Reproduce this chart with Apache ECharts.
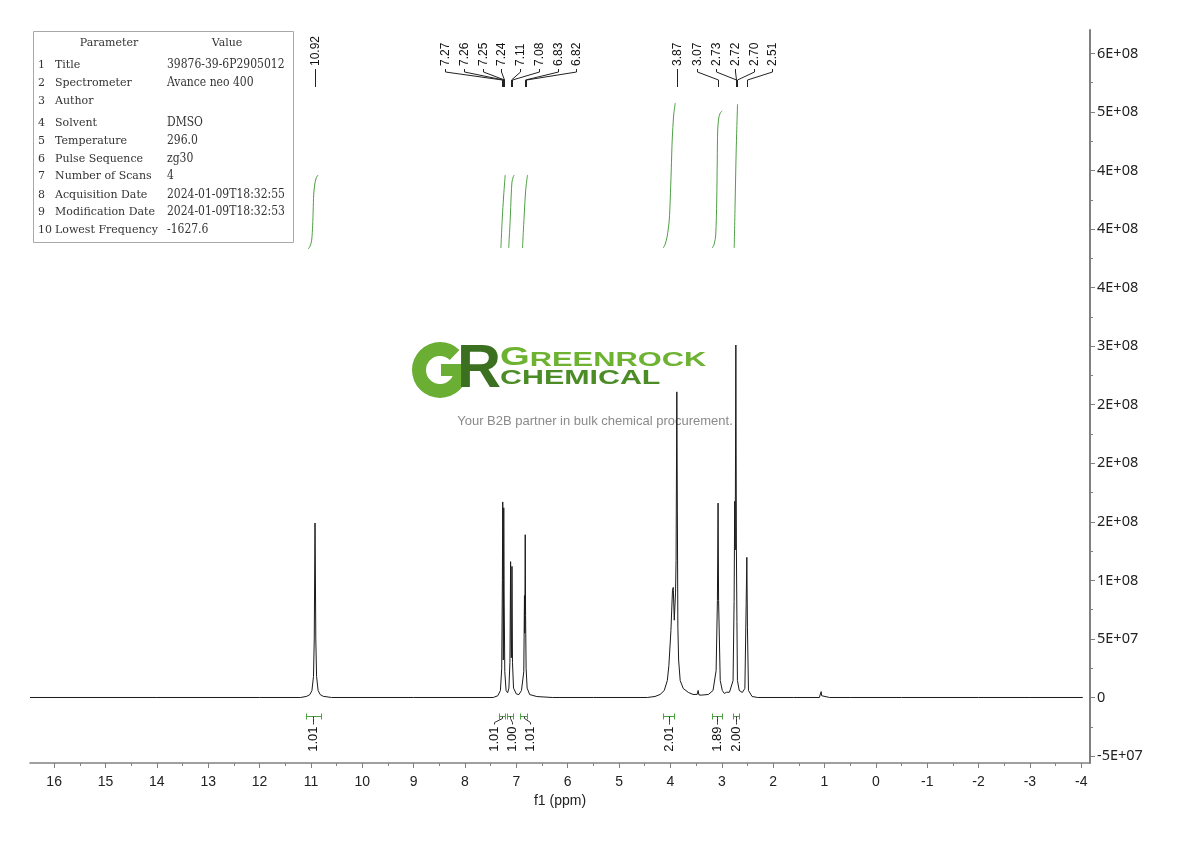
<!DOCTYPE html>
<html><head><meta charset="utf-8">
<script src="https://cdn.jsdelivr.net/npm/echarts@6/dist/echarts.min.js"></script>
<style>html,body{margin:0;padding:0;background:#fff}#c{width:1190px;height:841px}</style>
</head><body><div id="c"></div>
<script>
// ---------- data ----------
const xTickValues = [16,15,14,13,12,11,10,9,8,7,6,5,4,3,2,1,0,-1,-2,-3,-4];
const xMinorTickValues = [15.5,14.5,13.5,12.5,11.5,10.5,9.5,8.5,7.5,6.5,5.5,4.5,3.5,2.5,1.5,0.5,-0.5,-1.5,-2.5,-3.5];
const yTickValues = [-5e7,0,5e7,1e8,1.5e8,2e8,2.5e8,3e8,3.5e8,4e8,4.5e8,5e8,5.5e8];
const yTickLabels = ['-5E+07','0','5E+07','1E+08','2E+08','2E+08','2E+08','3E+08','4E+08','4E+08','4E+08','5E+08','6E+08'];
const yMinorTickValues = [-2.5e7,2.5e7,7.5e7,1.25e8,1.75e8,2.25e8,2.75e8,3.25e8,3.75e8,4.25e8,4.75e8,5.25e8];

const spectrumPpm = [16.47,14.0,12.0,11.2,11.08,11.02,10.98,10.95,10.935,10.925,10.92,10.915,10.905,10.89,10.86,10.82,10.76,10.6,9.0,
  7.45,7.36,7.31,7.285,7.272,7.265,7.258,7.254,7.25,7.245,7.238,7.225,7.2,7.17,7.145,7.125,7.112,7.104,7.098,7.092,7.085,7.075,7.055,7.0,6.95,6.90,6.855,6.842,6.835,6.827,6.82,6.81,6.79,6.74,6.6,6.3,5.5,
  4.45,4.30,4.20,4.12,4.06,4.03,3.99,3.96,3.945,3.925,3.90,3.89,3.875,3.865,3.855,3.84,3.81,3.75,3.65,3.56,3.48,3.46,3.445,3.40,3.26,3.17,3.11,3.085,3.072,3.062,3.03,2.99,2.95,2.91,2.88,2.85,2.82,2.78,2.76,2.748,2.738,2.726,2.715,2.705,2.695,2.66,2.6,2.55,2.525,2.512,2.500,2.48,2.41,2.3,1.6,
  1.10,1.075,1.065,1.055,1.03,0.9,0.5,-0.5,-2.0,-3.0,-4.03];
const spectrumIntensity = [0,0,0,0,1.0e6,2.5e6,6e6,1.8e7,5.0e7,1.2e8,1.49e8,1.2e8,5.0e7,1.8e7,6e6,2.5e6,1.0e6,0,0,
  0,1.5e6,6e6,2.5e7,1.0e8,1.67e8,9e7,3.2e7,8e7,1.62e8,9e7,2.2e7,6e6,4e6,8e6,3.0e7,1.16e8,5e7,3.4e7,5e7,1.12e8,3.0e7,8e6,3e6,2.5e6,6e6,2.2e7,8.7e7,5.5e7,1.39e8,7e7,2.5e7,8e6,2.5e6,8e5,0,0,
  0,8.5e5,2.6e6,6.0e6,1.45e7,2.73e7,5.73e7,9.15e7,9.4e7,6.6e7,9.0e7,1.17e8,2.61e8,1.6e8,6e7,3.2e7,1.45e7,7.7e6,4.3e6,2.6e6,2.6e6,6e6,2.2e6,2e6,2.6e6,6e6,2.3e7,8.3e7,1.66e8,8.3e7,1.45e7,6e6,3.4e6,4.5e6,3e6,4.5e6,6e6,1.45e7,8.2e7,1.675e8,1.26e8,3.01e8,1.26e8,6.5e7,1.45e7,6e6,4.3e6,7.7e6,8e7,1.197e8,6e7,6e6,8.5e5,0,0,
  0,1.5e6,5e6,1.5e6,0,0,0,0,0,0,0];

const peakLabels = [10.92,7.27,7.26,7.25,7.24,7.11,7.08,6.83,6.82,3.87,3.07,2.73,2.72,2.70,2.51];

const integralFrom = [11.09,7.33,7.18,6.93,4.14,3.20,2.78];
const integralTo = [10.81,7.22,7.06,6.79,3.93,2.99,2.66];
const integralValues = ['1.01','1.01','1.00','1.01','2.01','1.89','2.00'];

const integral1092 = [[11.054,3.83e8],[11.015,3.855e8],[10.985,3.906e8],[10.966,4.034e8],[10.956,4.162e8],[10.946,4.291e8],[10.927,4.376e8],[10.898,4.436e8],[10.859,4.462e8]];
const integral727 = [[7.301,3.838e8],[7.276,4.077e8],[7.246,4.291e8],[7.217,4.462e8]];
const integral711 = [[7.149,3.838e8],[7.120,4.077e8],[7.100,4.291e8],[7.085,4.402e8],[7.061,4.445e8],[7.042,4.462e8]];
const integral683 = [[6.880,3.838e8],[6.847,4.120e8],[6.818,4.333e8],[6.783,4.462e8]];
const integral387 = [[4.140,3.838e8],[4.101,3.872e8],[4.062,3.940e8],[4.023,4.077e8],[4.004,4.248e8],[3.984,4.504e8],[3.965,4.761e8],[3.936,4.974e8],[3.906,5.077e8]];
const integral307 = [[3.186,3.838e8],[3.147,3.872e8],[3.118,3.949e8],[3.098,4.248e8],[3.088,4.590e8],[3.079,4.846e8],[3.059,4.949e8],[3.030,4.991e8],[2.991,5.009e8]];
const integral272 = [[2.758,3.838e8],[2.739,4.248e8],[2.719,4.675e8],[2.693,5.068e8]];

const paramNames = ['Title','Spectrometer','Author','Solvent','Temperature','Pulse Sequence','Number of Scans','Acquisition Date','Modification Date','Lowest Frequency'];
const paramValues = ['39876-39-6P2905012','Avance neo 400','','DMSO','296.0','zg30','4','2024-01-09T18:32:55','2024-01-09T18:32:53','-1627.6'];

// ---------- helpers ----------
function spread(xs, gap) {
  const order = xs.map((x,i)=>i).sort((a,b)=>xs[a]-xs[b]);
  let clusters = order.map(i=>({idx:[i]}));
  const center = c => c.idx.reduce((s,i)=>s+xs[i],0)/c.idx.length;
  let changed = true;
  while (changed) {
    changed = false;
    for (let k=0;k<clusters.length-1;k++) {
      const a = clusters[k], b = clusters[k+1];
      const aEnd = center(a) + (a.idx.length-1)/2*gap;
      const bStart = center(b) - (b.idx.length-1)/2*gap;
      if (bStart - aEnd < gap - 0.01) {
        clusters.splice(k,2,{idx:a.idx.concat(b.idx)});
        changed = true; break;
      }
    }
  }
  const out = new Array(xs.length);
  clusters.forEach(c=>{ const m = center(c); c.idx.forEach((i,j)=>{ out[i] = m + (j-(c.idx.length-1)/2)*gap; }); });
  return out;
}
const crisp = v => Math.round(v) + 0.5;
const LABEL_FONT = '12px "Liberation Sans", Arial, sans-serif';
const INT_FONT = '13px "Liberation Sans", Arial, sans-serif';
const GREEN = '#4f9f45';

function renderPeakLabel(params, api) {
  const i = params.dataIndex;
  const xs = peakLabels.map(v => api.coord([v, 0])[0]);
  const pos = spread(xs, 18.7);
  const top = params.coordSys.y;
  const px = crisp(xs[i]), lx = crisp(pos[i]);
  return {type:'group', children:[
    {type:'text', x: lx, y: top + 36, rotation: Math.PI/2,
     style:{text: peakLabels[i].toFixed(2), font: LABEL_FONT, fill:'#111', align:'left', verticalAlign:'middle', textAlign:'left', textVerticalAlign:'middle'}},
    {type:'polyline', shape:{points:[[lx, top+39],[lx, top+42],[px, top+50],[px, top+57]]},
     style:{stroke:'#222', lineWidth:1, fill:'none'}}
  ]};
}

function renderIntegral(params, api) {
  const i = params.dataIndex;
  const centers = integralFrom.map((f,k)=> (api.coord([f,0])[0] + api.coord([integralTo[k],0])[0])/2);
  const pos = spread(centers, 18);
  const x1 = crisp(api.coord([integralFrom[i],0])[0]);
  const x2 = crisp(api.coord([integralTo[i],0])[0]);
  const cx = crisp(centers[i]), lx = crisp(pos[i]);
  const yb = Math.round(api.coord([0,0])[1]) + 19.5;
  const g = {stroke: GREEN, lineWidth:1, fill:'none'};
  return {type:'group', children:[
    {type:'line', shape:{x1:x1, y1:yb, x2:x2, y2:yb}, style:g},
    {type:'line', shape:{x1:x1, y1:yb-3, x2:x1, y2:yb+3}, style:g},
    {type:'line', shape:{x1:x2, y1:yb-3, x2:x2, y2:yb+3}, style:g},
    {type:'polyline', shape:{points:[[cx, yb],[cx, yb+2],[lx, yb+6],[lx, yb+8]]}, style:{stroke:'#333', lineWidth:1, fill:'none'}},
    {type:'text', x: lx, y: yb + 10, rotation: Math.PI/2,
     style:{text: integralValues[i], font: INT_FONT, fill:'#111', align:'right', verticalAlign:'middle', textAlign:'right', textVerticalAlign:'middle'}}
  ]};
}

// ---------- graphics (table + watermark) ----------
const tableRowY = [65,83,101,123,141,159,176,195,212,230];
const TFONT = '11px "DejaVu Serif", serif';
const VFONT = '12px "DejaVu Serif Condensed", "DejaVu Serif", serif';
const tcell = (x, y, text, font, align) => ({type:'text', x:x, y:y, style:{text:text, font:font, fill:'#333', textAlign:align||'left', align:align||'left', textVerticalAlign:'middle', verticalAlign:'middle'}});
const tableChildren = [
  {type:'rect', shape:{x:33.5, y:31.5, width:260, height:211}, style:{fill:'#fff', stroke:'#a8a8a8', lineWidth:1}},
  tcell(109, 43, 'Parameter', TFONT, 'center'),
  tcell(227, 43, 'Value', TFONT, 'center')
];
paramNames.forEach((n,i)=>{
  const y = tableRowY[i];
  tableChildren.push(tcell(38, y, String(i+1), TFONT));
  tableChildren.push(tcell(55, y, n, TFONT));
  tableChildren.push(tcell(167, y, paramValues[i], VFONT));
});

const logo = [
  {type:'sector', shape:{cx:440, cy:370, r:28, r0:14, startAngle:0, endAngle:Math.PI*2-0.8, clockwise:true}, style:{fill:'#6aae34'}},
  {type:'rect', shape:{x:441, y:364, width:26, height:12}, style:{fill:'#6aae34'}},
  {type:'text', x:457, y:370, style:{text:'R', font:'bold 61px "Liberation Sans", Arial, sans-serif', fill:'#3a7020', textVerticalAlign:'middle', verticalAlign:'middle'}},
  {type:'text', x:500, y:358, scaleX:1.47, style:{text:'{a|G}{b|REENROCK}', rich:{a:{font:'bold 26px "Liberation Sans", Arial', fill:'#6eb232', verticalAlign:'bottom'}, b:{font:'bold 21px "Liberation Sans", Arial', fill:'#6eb232', verticalAlign:'bottom'}}, textVerticalAlign:'middle', verticalAlign:'middle'}},
  {type:'text', x:500, y:378, scaleX:1.52, style:{text:'CHEMICAL', font:'bold 20px "Liberation Sans", Arial', fill:'#4b8c26', textVerticalAlign:'middle', verticalAlign:'middle'}},
  {type:'text', x:595, y:421, style:{text:'Your B2B partner in bulk chemical procurement.', font:'13px "Liberation Sans", Arial, sans-serif', fill:'#8a8a8a', textAlign:'center', align:'center', textVerticalAlign:'middle', verticalAlign:'middle'}}
];

// ---------- chart ----------
const X_MIN = -4.17, X_MAX = 16.47, Y_MIN = -5.594e7, Y_MAX = 5.70e8;
const chart = echarts.init(document.getElementById('c'), null, {renderer:'canvas'});
const integralCurves = [integral1092, integral727, integral711, integral683, integral387, integral307, integral272];

const option = {
  animation:false,
  backgroundColor:'#fff',
  grid:{left:30, right:100, top:30, bottom:78, containLabel:false},
  xAxis:[{
    type:'value', inverse:true, min:X_MIN, max:X_MAX, position:'bottom',
    axisLine:{show:true, onZero:false, lineStyle:{color:'#808080', width:1.5}},
    axisTick:{show:true, customValues:xTickValues, length:5, lineStyle:{color:'#808080'}},
    axisLabel:{customValues:xTickValues, margin:12, fontSize:14, color:'#222', fontFamily:'"Liberation Sans", Arial', formatter:v=>String(v)},
    splitLine:{show:false},
    name:'f1 (ppm)', nameLocation:'middle', nameGap:30, nameTextStyle:{fontSize:14, color:'#222', fontFamily:'"Liberation Sans", Arial'}
  },{
    type:'value', inverse:true, min:X_MIN, max:X_MAX, position:'bottom',
    axisLine:{show:false, onZero:false},
    axisTick:{show:true, customValues:xMinorTickValues, length:3, lineStyle:{color:'#808080'}},
    axisLabel:{show:false}, splitLine:{show:false}
  }],
  yAxis:[{
    type:'value', position:'right', min:Y_MIN, max:Y_MAX,
    axisLine:{show:true, onZero:false, lineStyle:{color:'#808080', width:2}},
    axisTick:{show:true, customValues:yTickValues, length:5, lineStyle:{color:'#808080'}},
    axisLabel:{customValues:yTickValues, formatter:v=>yTickLabels[yTickValues.indexOf(v)], margin:7, fontSize:14.5, color:'#222', fontFamily:'"Noto Sans", sans-serif'},
    splitLine:{show:false}
  },{
    type:'value', position:'right', min:Y_MIN, max:Y_MAX,
    axisLine:{show:false, onZero:false},
    axisTick:{show:true, customValues:yMinorTickValues, length:3, lineStyle:{color:'#808080'}},
    axisLabel:{show:false}, splitLine:{show:false}
  }],
  graphic:[
    {type:'group', z:0, children:logo},
    {type:'group', z:10, children:tableChildren}
  ],
  series:[
    {type:'line', name:'spectrum', xAxisIndex:0, yAxisIndex:0, z:5,
     data: spectrumPpm.map((p,i)=>[p, spectrumIntensity[i]]),
     showSymbol:false, symbol:'none', lineStyle:{color:'#1a1a1a', width:1}, clip:true},
    ...integralCurves.map(c=>({type:'line', xAxisIndex:0, yAxisIndex:0, z:4, data:c, smooth:0.3, symbol:'none', showSymbol:false, lineStyle:{color:GREEN, width:1}})),
    {type:'custom', xAxisIndex:0, yAxisIndex:0, z:6, clip:false, renderItem:renderPeakLabel, data: peakLabels.map(v=>[v,0])},
    {type:'custom', xAxisIndex:0, yAxisIndex:0, z:6, clip:false, renderItem:renderIntegral, data: integralFrom.map((f,i)=>[f,0])}
  ]
};
chart.setOption(option);
</script>
</body></html>
